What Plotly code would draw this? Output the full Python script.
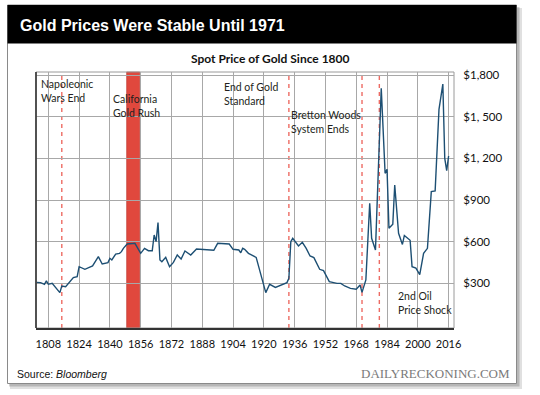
import plotly.graph_objects as go

# ---------------- data ----------------
years = [1802, 1804, 1806, 1807, 1808, 1810, 1814, 1815, 1817, 1821, 1823, 1824,
         1827, 1831, 1834, 1836, 1839, 1840, 1841, 1843, 1845, 1846, 1847, 1849,
         1853, 1856, 1858, 1860, 1862, 1863, 1864, 1865, 1866, 1867, 1869, 1871,
         1873, 1875, 1877, 1879, 1882, 1885, 1894, 1896, 1902, 1904, 1907, 1908,
         1909, 1910, 1912, 1914, 1916, 1921, 1923, 1926, 1929, 1932, 1933, 1934,
         1935, 1938, 1940, 1942, 1944, 1946, 1949, 1951, 1954, 1958, 1960, 1962,
         1965, 1968, 1970, 1971, 1973, 1975, 1976, 1978, 1981, 1983, 1984, 1985,
         1987, 1988, 1990, 1992, 1993, 1996, 1997, 1999, 2001, 2003, 2005, 2007,
         2009, 2011, 2013, 2014, 2015, 2016]
prices = [307, 305, 293, 317, 293, 300, 233, 281, 276, 341, 348, 420,
          401, 425, 492, 439, 449, 480, 468, 511, 516, 528, 552, 583,
          588, 516, 552, 535, 535, 648, 600, 737, 468, 456, 487, 420,
          451, 504, 475, 533, 504, 547, 538, 588, 583, 545, 540, 520,
          552, 545, 516, 504, 487, 233, 293, 271, 286, 305, 336, 600,
          624, 569, 595, 552, 497, 485, 401, 391, 312, 300, 300, 281,
          264, 257, 288, 235, 324, 876, 624, 540, 1704, 1092, 1121, 696,
          726, 1008, 660, 580, 645, 610, 420, 410, 362, 516, 552, 960,
          965, 1553, 1735, 1200, 1111, 1217]

x_tick_years = [1808, 1824, 1840, 1856, 1872, 1888, 1904, 1920, 1936, 1952, 1968, 1984, 2000, 2016]
x_tick_labels = [str(y) for y in x_tick_years]
y_tick_vals = [300, 600, 900, 1200, 1500, 1800]
y_tick_labels = ["$300", "$600", "$900", "$1, 200", "$1, 500", "$1,800"]

event_lines = [1815, 1933, 1971, 1980]           # dashed event markers
gold_rush = [1848.7, 1855.5]                      # shaded period

# event labels: (text, year position, price position)
event_labels = [
    ("Napoleonic<br>Wars End", 1803.2, 1796),
    ("California<br>Gold Rush", 1840.4, 1686),
    ("End of Gold<br>Standard", 1898.1, 1770),
    ("Bretton Woods<br>System Ends", 1933.0, 1573),
    ("2nd Oil<br>Price Shock", 1988.5, 265),
]

# ---------------- layout geometry ----------------
W, H = 540, 395
L, R, T, B = 36, 86, 72, 67
PW, PH = W - L - R, H - T - B


def px(xp):
    return (xp - L) / PW


def py(yp):
    return (H - B - yp) / PH


LINE_COLOR = "#1d4f73"
RED = "#e0483d"
FONT = "Lato, 'Open Sans', sans-serif"

fig = go.Figure()
fig.add_trace(go.Scatter(x=years, y=prices, mode="lines",
                         line=dict(color=LINE_COLOR, width=1.4),
                         hoverinfo="skip", showlegend=False))

shapes = []
# card shadow + card + header bar
shapes.append(dict(type="rect", xref="paper", yref="paper", layer="below",
                   x0=px(10), x1=px(522), y0=py(389), y1=py(8),
                   fillcolor="rgba(0,0,0,0.12)", line=dict(width=0)))
shapes.append(dict(type="rect", xref="paper", yref="paper", layer="below",
                   x0=px(9), x1=px(519.5), y0=py(386.5), y1=py(7),
                   fillcolor="rgba(0,0,0,0.18)", line=dict(width=0)))
shapes.append(dict(type="rect", xref="paper", yref="paper", layer="below",
                   x0=px(7.5), x1=px(516.5), y0=py(383.5), y1=py(5),
                   fillcolor="white", line=dict(color="#8a8a8a", width=1)))
shapes.append(dict(type="rect", xref="paper", yref="paper", layer="below",
                   x0=px(7.5), x1=px(516.5), y0=py(43.5), y1=py(5),
                   fillcolor="black", line=dict(width=0)))
# gold rush bar
shapes.append(dict(type="rect", xref="x", yref="paper", layer="between",
                   x0=gold_rush[0], x1=gold_rush[1], y0=0, y1=1,
                   fillcolor=RED, line=dict(color="#b8342b", width=0.6)))
# event dashed lines
for yr in event_lines:
    shapes.append(dict(type="line", xref="x", yref="paper", layer="between",
                       x0=yr, x1=yr, y0=0, y1=1,
                       line=dict(color="rgba(232,70,60,0.8)", width=1.4, dash="4px,4px")))
# plot frame (top/right in grey)
shapes.append(dict(type="rect", xref="paper", yref="paper", layer="between",
                   x0=0, x1=1, y0=0, y1=1, line=dict(color="#9a9a9a", width=1)))

annotations = []
for text, xv, yv in event_labels:
    annotations.append(dict(text=text, x=xv, y=yv, xref="x", yref="y",
                            xanchor="left", yanchor="top", align="left", showarrow=False,
                            font=dict(family=FONT, size=10.5, color="#231f20")))
annotations += [
    dict(text="<b>Gold Prices Were Stable Until 1971</b>", xref="paper", yref="paper",
         x=px(18), y=py(25.5), xanchor="left", yanchor="middle", showarrow=False,
         font=dict(family="Arial, 'Liberation Sans', sans-serif", size=16, color="white")),
    dict(text="<b>Spot Price of Gold Since 1800</b>", xref="paper", yref="paper",
         x=px(270), y=py(58.5), xanchor="center", yanchor="middle", showarrow=False,
         font=dict(family=FONT, size=12, color="#111")),
    dict(text="Source: <i>Bloomberg</i>", xref="paper", yref="paper",
         x=px(14.5), y=py(373.5), xanchor="left", yanchor="middle", showarrow=False,
         font=dict(family="Arial, 'Liberation Sans', sans-serif", size=10.5, color="#111")),
    dict(text="DAILYRECKONING.COM", xref="paper", yref="paper",
         x=px(512), y=py(373.5), xanchor="right", yanchor="middle", showarrow=False,
         font=dict(family="'Liberation Serif', 'DejaVu Serif', serif", size=13, color="#7a7a7a")),
]

fig.update_layout(
    width=W, height=H,
    margin=dict(l=L, r=R, t=T, b=B, pad=0),
    paper_bgcolor="white", plot_bgcolor="rgba(0,0,0,0)",
    shapes=shapes, annotations=annotations, showlegend=False,
    font=dict(family=FONT, size=11, color="#111"),
)
fig.update_xaxes(range=[1801.6, 2018.8], tickvals=x_tick_years, ticktext=x_tick_labels,
                 showgrid=True, gridcolor="#a8a8a8", gridwidth=1,
                 showline=True, linecolor="#333", linewidth=1.6,
                 ticks="outside", ticklen=5, tickcolor="rgba(0,0,0,0)",
                 tickfont=dict(family=FONT, size=11, color="#111"), zeroline=False)
fig.update_yaxes(range=[-21.6, 1821.6], tickvals=y_tick_vals, ticktext=y_tick_labels,
                 side="right", showgrid=True, gridcolor="#a8a8a8", gridwidth=1,
                 showline=False, ticks="outside", ticklen=6, tickcolor="rgba(0,0,0,0)",
                 tickfont=dict(family=FONT, size=11.5, color="#111"), zeroline=False)
fig.add_shape(type="line", xref="paper", yref="paper", x0=0, x1=0, y0=0, y1=1,
              line=dict(color="#333", width=1.6), layer="above")

fig.write_html("out.html", config={"displayModeBar": False},
               post_script="document.body.style.margin='0px';")
